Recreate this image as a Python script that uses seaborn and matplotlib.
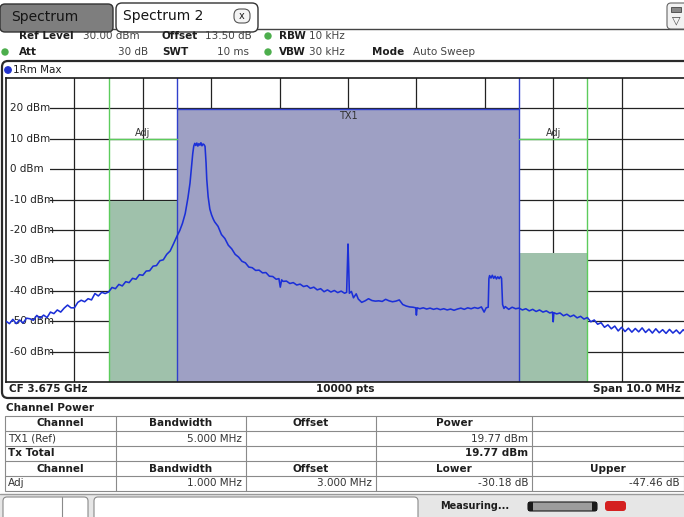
import matplotlib
matplotlib.use('Agg')
import matplotlib.pyplot as plt
from matplotlib.patches import Rectangle, FancyBboxPatch, Circle
import seaborn as sns

# 트레이스: CF 기준 주파수 오프셋 (MHz), 레벨 (dBm)
freq_mhz = [
    -5.00, -4.95, -4.90, -4.85, -4.80, -4.75, -4.70, -4.65, -4.60, -4.55,
    -4.50, -4.45, -4.40, -4.35, -4.30, -4.25, -4.20, -4.15, -4.10, -4.05,
    -4.00, -3.95, -3.90, -3.85, -3.80, -3.75, -3.70, -3.65, -3.60, -3.55,
    -3.50, -3.45, -3.40, -3.35, -3.30, -3.25, -3.20, -3.15, -3.10, -3.05,
    -3.00, -2.95, -2.90, -2.85, -2.80, -2.75, -2.70, -2.65, -2.60, -2.55,
    -2.50, -2.46, -2.42, -2.38, -2.34, -2.31, -2.29, -2.27, -2.255, -2.24,
    -2.225, -2.21, -2.195, -2.18, -2.165, -2.15, -2.135, -2.12, -2.105, -2.09,
    -2.075, -2.065, -2.045, -2.02, -1.995, -1.97,
    -1.95, -1.90, -1.85, -1.80, -1.75, -1.70, -1.65, -1.60, -1.55, -1.50,
    -1.45, -1.40, -1.35, -1.30, -1.25, -1.20, -1.15, -1.10, -1.05, -1.01,
    -0.99, -0.97, -0.95, -0.90, -0.85, -0.80, -0.75, -0.70, -0.65, -0.60,
    -0.55, -0.50, -0.45, -0.40, -0.35, -0.30, -0.25, -0.20, -0.15, -0.10,
    -0.05, -0.02, -0.01, 0.00, 0.01, 0.02, 0.05, 0.08, 0.12, 0.15,
    0.20, 0.25, 0.30, 0.35, 0.40, 0.45, 0.50, 0.55, 0.60, 0.65,
    0.70, 0.75, 0.80, 0.85, 0.90, 0.95, 0.99, 1.00, 1.01, 1.05,
    1.10, 1.15, 1.20, 1.25, 1.30, 1.35, 1.40, 1.45, 1.50, 1.55,
    1.60, 1.65, 1.70, 1.75, 1.80, 1.85, 1.90, 1.95, 1.99, 2.02,
    2.05, 2.06, 2.07, 2.09, 2.11, 2.13, 2.15, 2.17, 2.19, 2.21,
    2.23, 2.245, 2.26, 2.28,
    2.30, 2.35, 2.40, 2.45, 2.50, 2.55, 2.60, 2.65, 2.70, 2.75,
    2.80, 2.85, 2.90, 2.95, 2.99, 3.00, 3.01, 3.05, 3.10, 3.15,
    3.20, 3.25, 3.30, 3.35, 3.40, 3.45, 3.50, 3.55, 3.60, 3.65,
    3.70, 3.75, 3.80, 3.85, 3.90, 3.95, 4.00, 4.05, 4.10, 4.15,
    4.20, 4.25, 4.30, 4.35, 4.40, 4.45, 4.50, 4.55, 4.60, 4.65,
    4.70, 4.75, 4.80, 4.85, 4.90, 4.95, 5.00,
]
level_dbm = [
    -50.0, -50.8, -49.4, -50.8, -49.6, -50.6, -49.0, -49.2, -49.7, -48.1,
    -49.0, -48.0, -48.8, -47.0, -47.5, -46.3, -47.0, -45.7, -44.7, -45.6,
    -45.6, -43.8, -43.1, -43.6, -42.6, -43.0, -40.9, -41.7, -40.5, -40.9,
    -40.4, -38.9, -39.3, -37.9, -38.4, -37.0, -37.3, -35.9, -36.2, -34.7,
    -34.9, -33.5, -33.4, -31.9, -31.7, -30.1, -29.8, -28.0, -26.9, -24.5,
    -22.0, -20.2, -17.8, -14.6, -9.4, -4.6, 0.2, 5.1, 7.6, 8.5,
    7.8, 8.6, 7.6, 8.4, 7.9, 8.7, 7.7, 8.3, 8.1, 7.5,
    2.0, -3.3, -9.0, -13.1, -15.0, -16.4,
    -17.3, -18.8, -21.5, -22.8, -25.0, -26.2, -28.0, -28.9, -30.3, -30.8,
    -32.2, -32.4, -33.3, -33.2, -34.1, -34.0, -35.2, -35.3, -36.2, -36.0,
    -38.8, -36.4, -36.9, -36.8, -37.6, -37.3, -38.1, -37.8, -38.6, -38.3,
    -39.2, -38.8, -39.7, -39.3, -40.3, -39.7, -40.4, -39.9, -40.6, -40.1,
    -40.8, -40.5, -33.0, -24.6, -32.0, -40.8, -40.2, -42.3, -41.0, -42.7,
    -43.8, -43.3, -42.6, -43.2, -43.4, -43.3, -43.5, -42.8, -43.3, -43.6,
    -43.4, -43.0, -44.5, -45.0, -45.3, -45.4, -45.6, -48.0, -45.6, -45.9,
    -45.6, -46.0, -45.7, -46.1, -45.8, -46.2, -45.9, -46.3, -46.0, -46.4,
    -46.0, -45.7, -46.1, -45.6, -45.9, -45.5, -45.8, -45.3, -47.0, -45.6,
    -45.4, -36.0, -35.0, -35.8, -34.9, -35.9, -35.2, -36.1, -35.4, -36.0,
    -35.3, -35.9, -44.5, -45.8,
    -45.2, -46.1, -45.4, -45.9, -45.7, -46.3, -45.9, -46.6, -46.1, -46.8,
    -46.3, -47.0, -46.6, -47.3, -47.0, -50.2, -47.2, -47.6, -47.3, -48.2,
    -47.7, -48.5, -48.0, -48.9, -48.4, -49.3, -48.8, -50.2, -49.6, -51.0,
    -50.5, -52.0, -51.2, -52.5, -51.6, -53.2, -52.0, -53.4, -52.3, -53.6,
    -52.4, -53.5, -52.2, -53.7, -52.6, -53.9, -52.5, -53.8, -52.8, -54.0,
    -52.7, -53.9, -52.9, -54.1, -52.8, -53.8, -53.2,
]

y_ticks = [20, 10, 0, -10, -20, -30, -40, -50, -60]
x_grid = [-4, -3, -2, -1, 0, 1, 2, 3, 4]

# 채널 (MHz) 과 채널 파워 (dBm)
tx_band = [-2.5, 2.5]
tx_power = 19.77
adj_lower = [-3.5, -2.5]
adj_upper = [2.5, 3.5]
adj_lower_power = -10.41
adj_upper_power = -27.69

# 채널 파워 표
table_rows = [
    ['Channel', 'Bandwidth', 'Offset', 'Power', ''],
    ['TX1 (Ref)', '5.000 MHz', '', '19.77 dBm', ''],
    ['Tx Total', '', '', '19.77 dBm', ''],
    ['Channel', 'Bandwidth', 'Offset', 'Lower', 'Upper'],
    ['Adj', '1.000 MHz', '3.000 MHz', '-30.18 dB', '-47.46 dB'],
]

trace_col = '#1b2fd8'
tx_fill = '#9ea0c4'
tx_edge = '#3040cc'
adj_fill = '#9fc1ab'
adj_edge = '#5ccc5c'
ink = '#1e1e1e'

sns.set_style('white')
plt.rcParams['font.family'] = ['DejaVu Sans']

fig = plt.figure(figsize=(6.84, 5.17), dpi=100)

# 화면 틀 (픽셀 좌표)
ui = fig.add_axes([0, 0, 1, 1], zorder=0)
ui.set_xlim(0, 684)
ui.set_ylim(517, 0)
ui.axis('off')


def box(x0, y0, x1, y1, fc='white', ec='none', lw=1.0, r=0, z=1):
    if r:
        p = FancyBboxPatch((x0, y0), x1 - x0, y1 - y0,
                           boxstyle=f'round,pad=0,rounding_size={r}',
                           fc=fc, ec=ec, lw=lw, zorder=z)
    else:
        p = Rectangle((x0, y0), x1 - x0, y1 - y0, fc=fc, ec=ec, lw=lw, zorder=z)
    ui.add_patch(p)


def t(x, y, s, size=7.5, bold=False, ha='left', color=ink, z=3):
    ui.text(x, y, s, fontsize=size, fontweight='bold' if bold else 'normal',
            ha=ha, va='center', color=color, zorder=z)


# 탭
ui.plot([0, 684], [29, 29], color='#444444', lw=1, zorder=1)
box(0, 4, 113, 32, fc='#7e7e7e', ec='#333333', lw=1, r=5, z=2)
t(11, 17, 'Spectrum', size=10, color='#151515')
box(116, 3, 258, 32, fc='white', ec='#333333', lw=1, r=6, z=2)
t(123, 16, 'Spectrum 2', size=10, color='#151515')
box(234, 9, 250, 23, fc='#f4f4f4', ec='#555555', lw=0.8, r=6, z=3)
t(242, 16, 'x', size=7, ha='center', z=4)
box(667, 3, 690, 29, fc='#f2f2f2', ec='#666666', lw=0.8, r=4, z=2)
box(671, 7, 681, 12, fc='#888888', ec='#444444', lw=0.6, z=3)
t(676, 20, '▽', size=8, ha='center', color='#444444', z=4)

# 설정 줄
t(19, 36, 'Ref Level', bold=True)
t(83, 36, '30.00 dBm', color='#444444')
t(162, 36, 'Offset', bold=True)
t(205, 36, '13.50 dB', color='#444444')
t(279, 36, 'RBW', bold=True)
t(309, 36, '10 kHz', color='#444444')
t(19, 52, 'Att', bold=True)
t(148, 52, '30 dB', ha='right', color='#444444')
t(162, 52, 'SWT', bold=True)
t(249, 52, '10 ms', ha='right', color='#444444')
t(279, 52, 'VBW', bold=True)
t(309, 52, '30 kHz', color='#444444')
t(372, 52, 'Mode', bold=True)
t(413, 52, 'Auto Sweep', color='#444444')
for cx, cy in [(268, 36), (5, 52), (268, 52)]:
    ui.add_patch(Circle((cx, cy), 3, color='#4cae4c', zorder=3))

# 그래프 틀
box(2, 61, 700, 398, fc='white', ec='#2a2a2a', lw=1.6, r=6, z=1)
ui.add_patch(Circle((8, 70), 3.2, color='#2233cc', zorder=3))
t(13, 70, '1Rm Max')
t(9, 389, 'CF 3.675 GHz', bold=True)
t(345, 389, '10000 pts', bold=True, ha='center')
t(681, 389, 'Span 10.0 MHz', bold=True, ha='right')

# 채널 파워 표
t(6, 408, 'Channel Power', bold=True)
col_edges = [5, 116, 246, 376, 532, 684]
row_edges = [416, 431, 446, 461, 476, 491]
box(5, 416, 684, 491, fc='white', ec='#8a8a8a', lw=0.8, z=1)
for x in col_edges[1:-1]:
    ui.plot([x, x], [416, 491], color='#8a8a8a', lw=0.8, zorder=2)
for y in row_edges[1:-1]:
    ui.plot([5, 684], [y, y], color='#8a8a8a', lw=0.8, zorder=2)
for r, row in enumerate(table_rows):
    yc = (row_edges[r] + row_edges[r + 1]) / 2
    header = row[0] == 'Channel'
    for c, s in enumerate(row):
        if not s:
            continue
        if header:
            t((col_edges[c] + col_edges[c + 1]) / 2, yc, s, bold=True, ha='center')
        elif c == 0:
            t(col_edges[0] + 3, yc, s, bold=(s == 'Tx Total'),
              color=ink if s == 'Tx Total' else '#333333')
        else:
            t(col_edges[c + 1] - 4, yc, s, ha='right', bold=(row[0] == 'Tx Total'),
              color=ink if row[0] == 'Tx Total' else '#333333')

# 상태 표시줄
box(0, 494, 684, 517, fc='#e6e6e6', ec='none', z=1)
ui.plot([0, 684], [494, 494], color='#9a9a9a', lw=1, zorder=2)
box(3, 497, 88, 522, fc='white', ec='#8a8a8a', lw=0.8, r=4, z=2)
ui.plot([62, 62], [497, 517], color='#8a8a8a', lw=0.8, zorder=3)
box(94, 497, 418, 522, fc='white', ec='#8a8a8a', lw=0.8, r=4, z=2)
t(440, 506, 'Measuring...', size=7, bold=True)
box(528, 502, 597, 511, fc='#9c9c9c', ec='#1a1a1a', lw=0.8, r=2.5, z=2)
box(528, 502, 533, 511, fc='#1a1a1a', ec='none', z=3)
box(592, 502, 597, 511, fc='#1a1a1a', ec='none', z=3)
box(605, 501, 626, 511, fc='#d42020', ec='none', r=3, z=2)

# 스펙트럼 그래프
ax = fig.add_axes([6 / 684, 1 - 382 / 517, 684 / 684, 304 / 517], zorder=2)
ax.set_xlim(-5, 5)
ax.set_ylim(-70, 30)
ax.set_facecolor('white')
ax.set_xticks(x_grid)
ax.set_yticks(y_ticks)
ax.tick_params(length=0, labelbottom=False, labelleft=False)
ax.grid(True, color='#222222', lw=0.9)
ax.set_axisbelow(True)
for side in ['top', 'left', 'bottom']:
    ax.spines[side].set_color('#1a1a1a')
    ax.spines[side].set_linewidth(1.2)
ax.spines['right'].set_visible(False)

ax.fill_between(adj_lower, -70, adj_lower_power, color=adj_fill, lw=0, zorder=1)
ax.fill_between(adj_upper, -70, adj_upper_power, color=adj_fill, lw=0, zorder=1)
ax.fill_between(tx_band, -70, tx_power, color=tx_fill, lw=0, zorder=1)
ax.plot(tx_band, [tx_power, tx_power], color=tx_edge, lw=1, zorder=1.5)
for xv in tx_band:
    ax.axvline(xv, color=tx_edge, lw=1, zorder=1.5)
for band in [adj_lower, adj_upper]:
    ax.plot(band, [10, 10], color=adj_edge, lw=1, zorder=1.5)
ax.axvline(adj_lower[0], color=adj_edge, lw=1, zorder=1.5)
ax.axvline(adj_upper[1], color=adj_edge, lw=1, zorder=1.5)

ax.text(-3.0, 12, 'Adj', fontsize=7, ha='center', va='center', color='#333333', zorder=2)
ax.text(3.0, 12, 'Adj', fontsize=7, ha='center', va='center', color='#333333', zorder=2)
ax.text(0.0, 17.4, 'TX1', fontsize=7, ha='center', va='center', color='#333333', zorder=2)

# 눈금 라벨은 그래프 안쪽 왼편에 (라벨 아래 격자선은 가림)
for yv in y_ticks:
    ax.fill_between([-5.0, -4.35], yv - 1.2, yv + 1.2, color='white', lw=0, zorder=1.8)
    ax.text(-4.94, yv, f'{yv} dBm', fontsize=7.5, ha='left', va='center',
            color='#222222', zorder=2)

sns.lineplot(x=freq_mhz, y=level_dbm, ax=ax, color=trace_col, lw=1.15,
             sort=False, estimator=None, zorder=3)

fig.savefig('out.png', dpi=100)
